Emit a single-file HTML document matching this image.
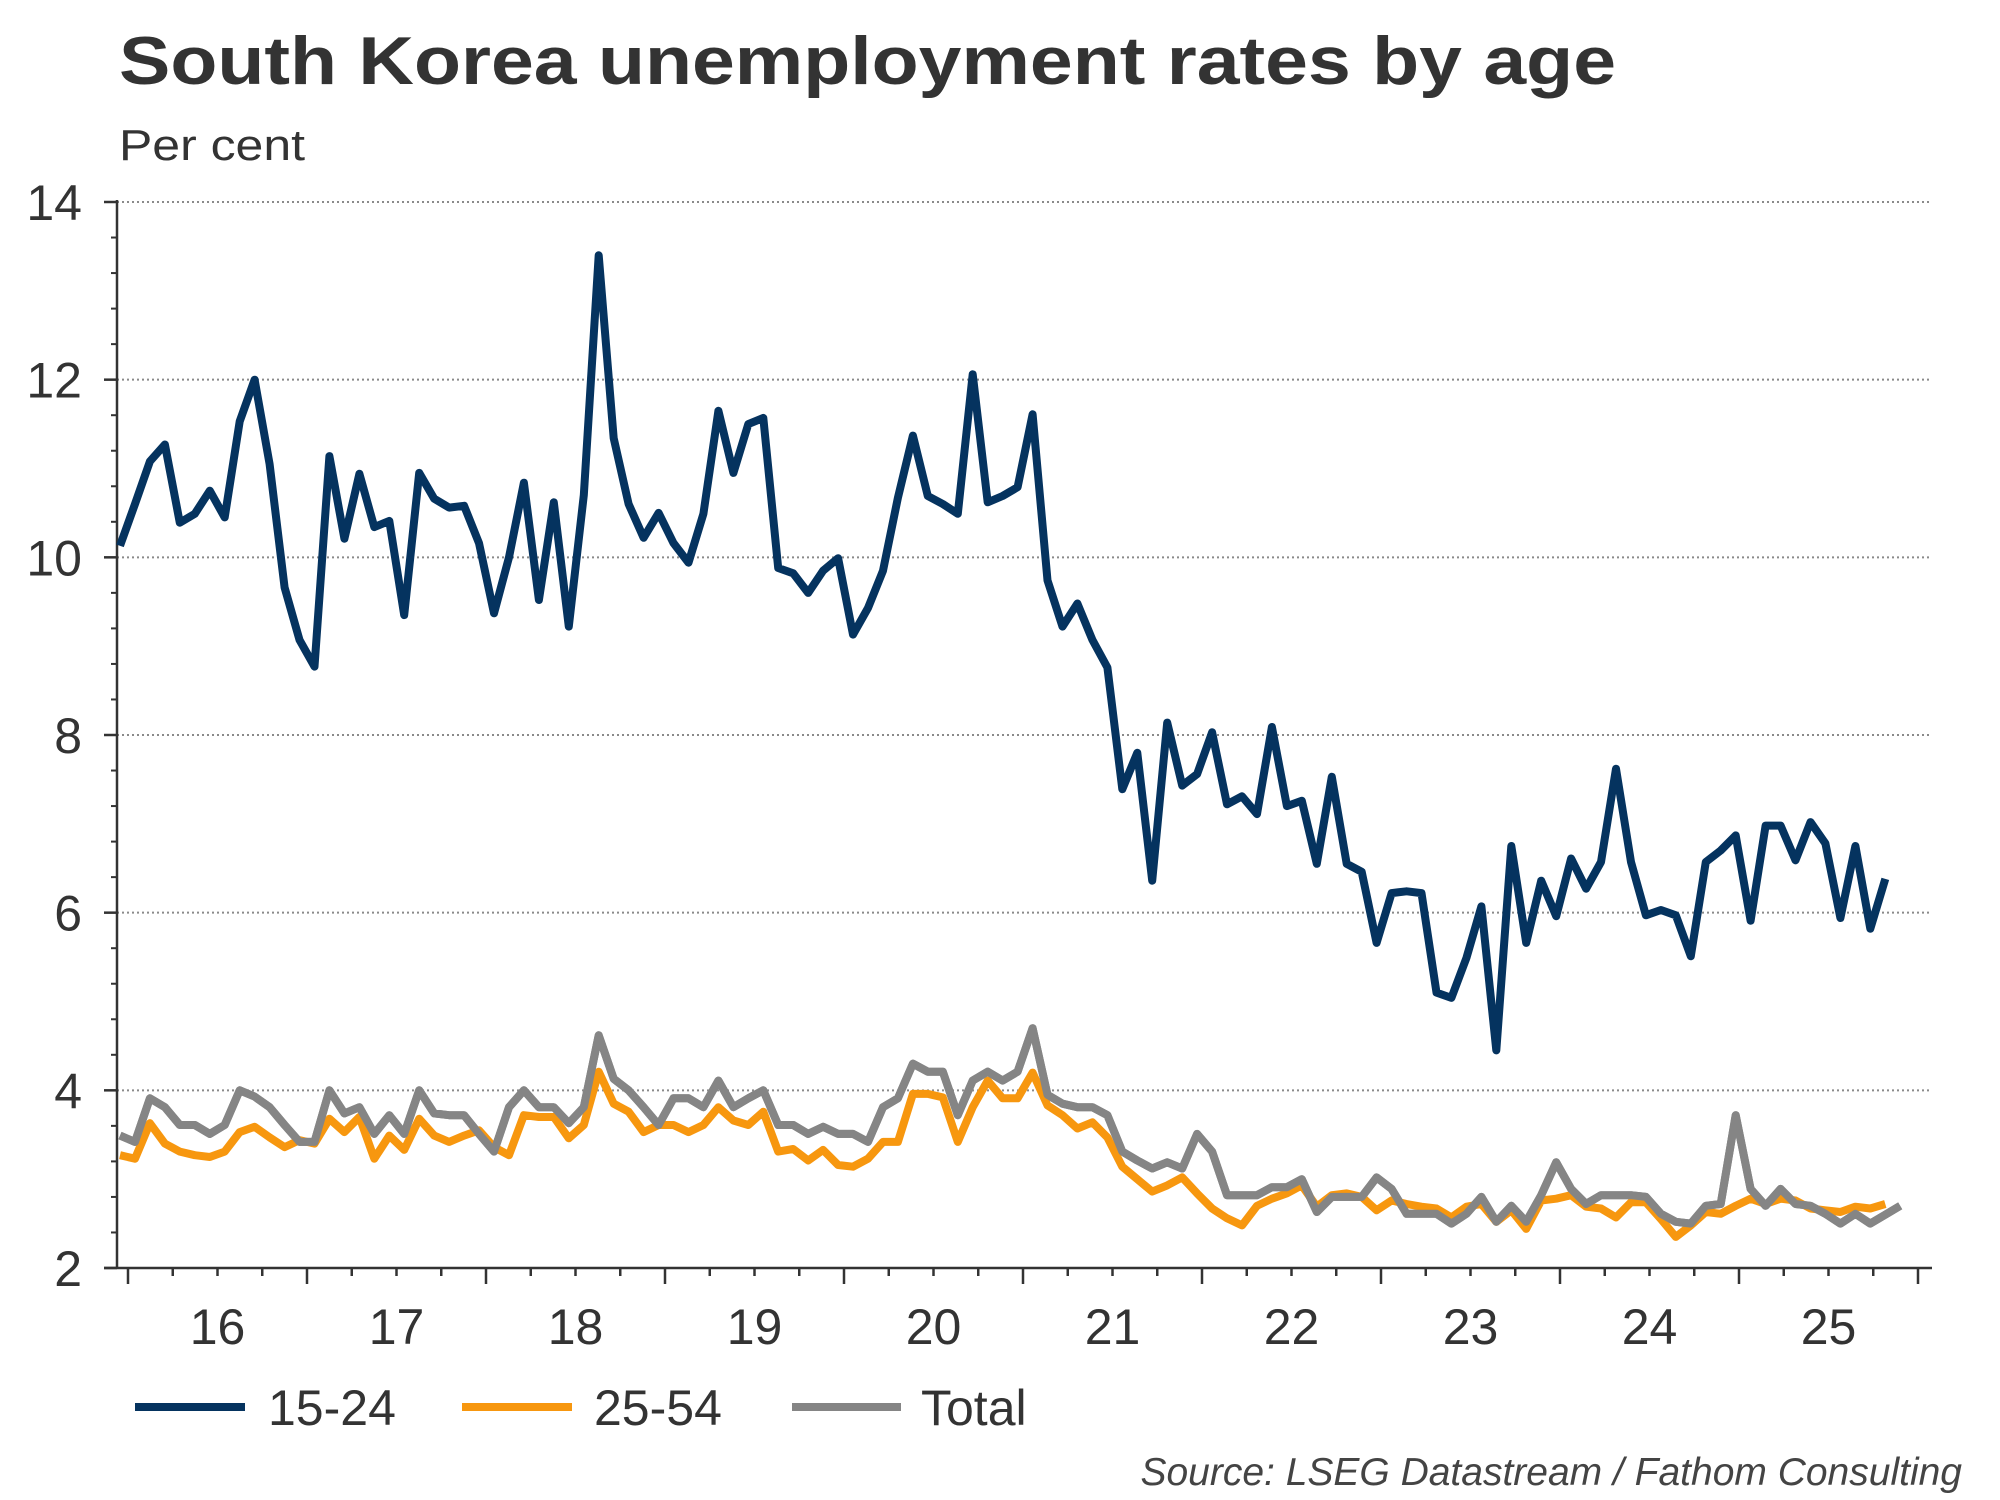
<!DOCTYPE html>
<html><head><meta charset="utf-8"><style>
html,body{margin:0;padding:0;background:#fff;}
svg{display:block;}
text{font-family:"Liberation Sans",Arial,sans-serif;fill:#333;}
</style></head><body>
<svg id="chart" width="2000" height="1500" viewBox="0 0 2000 1500" xmlns="http://www.w3.org/2000/svg">
<text x="119" y="84" font-size="68" font-weight="bold" textLength="1497" lengthAdjust="spacingAndGlyphs" style="fill:#333">South Korea unemployment rates by age</text>
<text x="119" y="160" font-size="44" textLength="186" lengthAdjust="spacingAndGlyphs">Per cent</text>
<g id="grid"></g>
<g id="axes"></g>
<g id="series"></g>
<g>
<line x1="135" y1="1407" x2="245" y2="1407" stroke="#05335f" stroke-width="8"/>
<text x="268" y="1425" font-size="50">15-24</text>
<line x1="462" y1="1407" x2="572" y2="1407" stroke="#f7970f" stroke-width="8"/>
<text x="594" y="1425" font-size="50">25-54</text>
<line x1="792" y1="1407" x2="901" y2="1407" stroke="#858585" stroke-width="8"/>
<text x="921" y="1425" font-size="50">Total</text>
</g>
<text x="1962" y="1485" font-size="39" font-style="italic" text-anchor="end" style="fill:#444">Source: LSEG Datastream / Fathom Consulting</text>
</svg>
<script>
const yTicks = [2, 4, 6, 8, 10, 12, 14];
const yearLabels = ["16","17","18","19","20","21","22","23","24","25"];
const youth = [10.13,10.6,11.08,11.27,10.39,10.49,10.75,10.45,11.53,12.0,11.05,9.66,9.07,8.77,11.14,10.21,10.94,10.34,10.41,9.35,10.95,10.66,10.56,10.58,10.16,9.37,10.0,10.84,9.52,10.62,9.22,10.7,13.4,11.34,10.6,10.22,10.5,10.16,9.94,10.49,11.65,10.95,11.5,11.57,9.88,9.82,9.6,9.85,9.99,9.13,9.43,9.85,10.67,11.37,10.69,10.6,10.49,12.06,10.62,10.69,10.79,11.61,9.74,9.22,9.48,9.07,8.76,7.39,7.8,6.36,8.14,7.43,7.56,8.03,7.22,7.31,7.11,8.09,7.2,7.26,6.55,7.53,6.55,6.46,5.66,6.22,6.24,6.22,5.1,5.04,5.49,6.07,4.45,6.75,5.66,6.36,5.96,6.61,6.27,6.57,7.62,6.57,5.97,6.03,5.97,5.51,6.57,6.7,6.87,5.91,6.98,6.98,6.59,7.02,6.78,5.94,6.75,5.82,6.38];
const prime = [3.27,3.23,3.63,3.4,3.31,3.27,3.25,3.31,3.53,3.59,3.47,3.36,3.44,3.4,3.68,3.53,3.7,3.23,3.49,3.33,3.68,3.49,3.42,3.49,3.55,3.36,3.27,3.72,3.7,3.7,3.46,3.61,4.21,3.85,3.76,3.53,3.61,3.61,3.53,3.61,3.81,3.66,3.61,3.76,3.31,3.34,3.21,3.33,3.16,3.14,3.23,3.42,3.42,3.96,3.96,3.92,3.42,3.81,4.11,3.91,3.91,4.2,3.83,3.72,3.57,3.64,3.47,3.14,3.0,2.86,2.93,3.02,2.84,2.67,2.56,2.48,2.7,2.78,2.84,2.93,2.69,2.82,2.84,2.8,2.65,2.76,2.72,2.69,2.67,2.57,2.69,2.72,2.52,2.65,2.44,2.76,2.78,2.82,2.69,2.67,2.57,2.74,2.74,2.55,2.35,2.48,2.63,2.61,2.7,2.78,2.72,2.78,2.76,2.67,2.65,2.63,2.69,2.67,2.72];
const total = [3.49,3.42,3.91,3.81,3.61,3.61,3.51,3.61,4.0,3.93,3.81,3.61,3.42,3.42,4.0,3.74,3.81,3.51,3.72,3.51,4.0,3.74,3.72,3.72,3.51,3.31,3.81,4.0,3.81,3.81,3.63,3.81,4.62,4.13,4.0,3.81,3.61,3.91,3.91,3.81,4.11,3.81,3.91,4.0,3.61,3.61,3.51,3.59,3.51,3.51,3.42,3.81,3.91,4.3,4.21,4.21,3.72,4.11,4.21,4.11,4.21,4.7,3.95,3.85,3.81,3.81,3.72,3.31,3.21,3.12,3.19,3.12,3.51,3.31,2.82,2.82,2.82,2.91,2.91,3.0,2.63,2.8,2.8,2.8,3.02,2.89,2.61,2.61,2.61,2.5,2.61,2.8,2.52,2.7,2.52,2.82,3.19,2.89,2.72,2.82,2.82,2.82,2.8,2.61,2.52,2.5,2.7,2.72,3.72,2.89,2.7,2.89,2.72,2.7,2.61,2.5,2.61,2.5,2.6,2.7];

const NS = "http://www.w3.org/2000/svg";
const X0 = 117, X1 = 1932, Y_TOP = 202, Y_BOT = 1268;
const FIRST_X = 120, STEP = 14.96, YEAR0 = 128, YEAR_W = 179;
function xPos(i){ return FIRST_X + i*STEP; }
function yPos(v){ return Y_BOT - (v-2)*(Y_BOT-Y_TOP)/12; }
function mk(tag, attrs, parent){
  const el = document.createElementNS(NS, tag);
  for (const k in attrs) el.setAttribute(k, attrs[k]);
  parent.appendChild(el);
  return el;
}
const grid = document.getElementById('grid');
const axes = document.getElementById('axes');
const series = document.getElementById('series');

yTicks.forEach(function(v){
  const y = yPos(v);
  if (v !== 2) {
    const g = mk('line',{x1:X0,y1:y,x2:X1,y2:y,stroke:'#8a8a8a','stroke-width':2,'stroke-dasharray':'2 3'},grid);
    
    
  }
  const t = mk('line',{x1:104,y1:y,x2:X0,y2:y,stroke:'#333','stroke-width':2.5},axes);
  
  
  const lbl = mk('text',{x:82,y:y+18,'font-size':50,'text-anchor':'end'},axes);
  lbl.textContent = String(v);
  
  
});
for (let v = 2.4; v < 14; v += 0.4) {
  if (Math.abs(v/2 - Math.round(v/2)) < 0.01) continue;
  const y = yPos(v);
  const t = mk('line',{x1:111,y1:y,x2:X0,y2:y,stroke:'#333','stroke-width':2},axes);
  
  
}
const yAxis = mk('line',{x1:X0,y1:Y_TOP-2,x2:X0,y2:Y_BOT,stroke:'#333','stroke-width':2.5},axes);


const xAxis = mk('line',{x1:104,y1:Y_BOT,x2:X1,y2:Y_BOT,stroke:'#333','stroke-width':2.5},axes);


for (let q = 0; q <= 40; q++) {
  const x = YEAR0 + q*YEAR_W/4;
  if (x > X1) break;
  const major = q % 4 === 0;
  const t = mk('line',{x1:x,y1:Y_BOT,x2:x,y2:Y_BOT+(major?16:8),stroke:'#333','stroke-width':2.5},axes);
  
  
}
yearLabels.forEach(function(s, k){
  const lbl = mk('text',{x:YEAR0 + k*YEAR_W + YEAR_W/2,y:1344,'font-size':50,'text-anchor':'middle'},axes);
  lbl.textContent = s;
  
  
});
function drawLine(arr, color, name){
  const pts = arr.map(function(v,i){ return xPos(i).toFixed(1)+','+yPos(v).toFixed(1); }).join(' ');
  const p = mk('polyline',{points:pts,fill:'none',stroke:color,'stroke-width':8,'stroke-linejoin':'round','stroke-linecap':'butt'},series);
  
  
}
drawLine(total, '#858585', 'line-total');
drawLine(prime, '#f7970f', 'line-25-54');
drawLine(total, '#858585', 'line-total-overlay');
drawLine(youth, '#05335f', 'line-15-24');
</script>
</body></html>
